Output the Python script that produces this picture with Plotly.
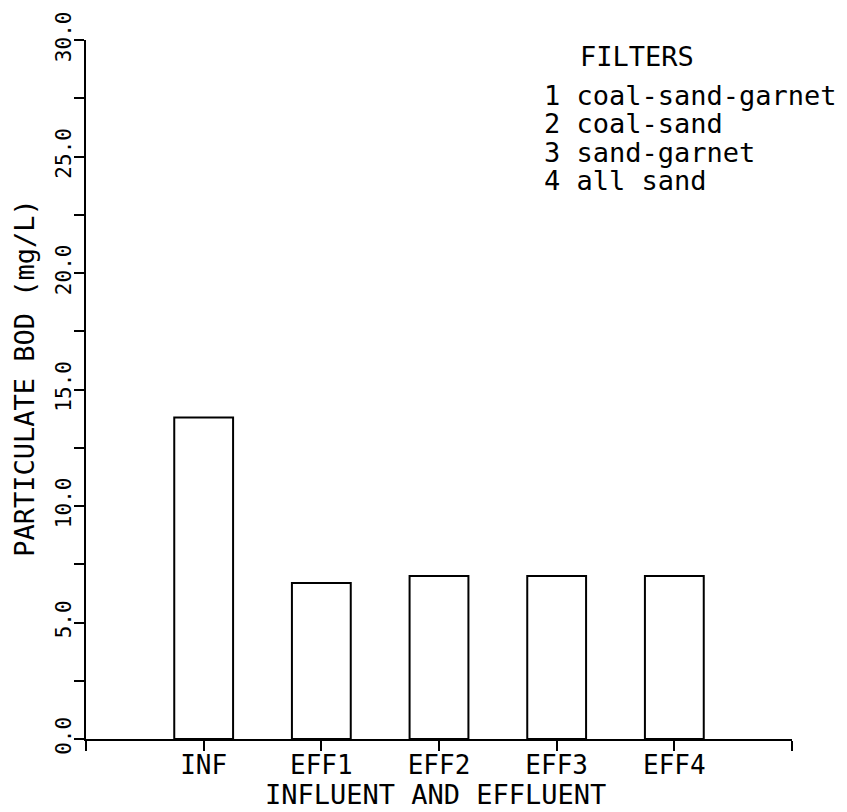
import plotly.graph_objects as go

# Particulate BOD, influent vs. effluent of four filters
categories = ["INF", "EFF1", "EFF2", "EFF3", "EFF4"]
bod_values = [13.8, 6.7, 7.0, 7.0, 7.0]

y_tick_values = [0, 2.5, 5, 7.5, 10, 12.5, 15, 17.5, 20, 22.5, 25, 27.5, 30]
y_tick_labels = ["0.0", "", "5.0", "", "10.0", "", "15.0", "", "20.0", "", "25.0", "", "30.0"]

legend_title = "FILTERS"
filter_ids = ["1", "2", "3", "4"]
filter_names = ["coal-sand-garnet", "coal-sand", "sand-garnet", "all sand"]

FONT = "DejaVu Sans Mono"
positions = list(range(1, len(categories) + 1))

fig = go.Figure()
fig.add_trace(go.Bar(
    x=positions,
    y=bod_values,
    width=0.5,
    marker=dict(color="white", line=dict(color="black", width=2)),
    hoverinfo="skip",
))

fig.update_layout(
    width=847, height=812,
    margin=dict(l=86, r=55, t=31, b=73),
    paper_bgcolor="white", plot_bgcolor="white",
    showlegend=False,
    font=dict(family=FONT, color="black"),
    xaxis=dict(
        range=[0, len(categories) + 1],
        tickvals=[0] + positions + [len(categories) + 1],
        ticktext=[""] + categories + [""],
        ticks="outside", ticklen=10, tickwidth=2, tickcolor="black",
        showline=True, linecolor="black", linewidth=2,
        showgrid=False, zeroline=False,
        tickfont=dict(family=FONT, size=26),
        ticklabelstandoff=-8,
    ),
    yaxis=dict(
        range=[0, 30],
        tickvals=y_tick_values,
        ticktext=y_tick_labels,
        tickangle=-90,
        ticks="outside", ticklen=10, tickwidth=2, tickcolor="black",
        showline=True, linecolor="black", linewidth=2,
        showgrid=False, zeroline=False,
        tickfont=dict(family=FONT, size=21),
        ticklabelstandoff=-5,
    ),
)

# axis titles
fig.add_annotation(
    text="INFLUENT AND EFFLUENT", xref="paper", yref="paper",
    x=0.5, y=0, xshift=-4, yshift=-73, showarrow=False,
    font=dict(family=FONT, size=27), xanchor="center", yanchor="bottom",
)
fig.add_annotation(
    text="PARTICULATE BOD (mg/L)", xref="paper", yref="y",
    x=0, y=15.5, xshift=-61, showarrow=False, textangle=-90,
    font=dict(family=FONT, size=27), xanchor="center", yanchor="middle",
)

# filter key
fig.add_annotation(
    text=legend_title, xref="paper", yref="paper",
    x=0, y=1, xshift=492, yshift=-16, showarrow=False,
    font=dict(family=FONT, size=27), xanchor="left", yanchor="middle",
)
for i, (fid, name) in enumerate(zip(filter_ids, filter_names)):
    fig.add_annotation(
        text=f"{fid} {name}", xref="paper", yref="paper",
        x=0, y=1, xshift=456, yshift=-55 - 28.5 * i, showarrow=False,
        font=dict(family=FONT, size=27), xanchor="left", yanchor="middle",
    )

fig.write_html("out.html")
